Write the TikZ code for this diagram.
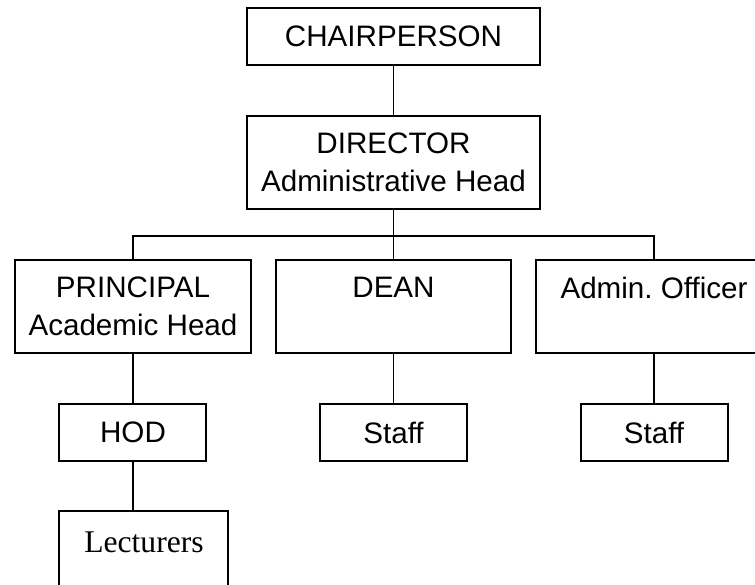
\documentclass[tikz,border=0pt]{standalone}
\usepackage{fontspec}
\setmainfont{Liberation Sans}
\newfontfamily\lectfont{Liberation Serif}
\usetikzlibrary{positioning}

\begin{document}
\begin{tikzpicture}[
    node distance=24.5pt and 11.5pt,
    box/.style={rectangle, draw, line width=1pt, minimum width=73.5pt, minimum height=28.5pt, inner sep=2pt, font=\fontsize{14.8}{19}\selectfont},
    bigbox/.style={box, align=center, minimum width=118pt, minimum height=46.5pt},
    link/.style={line width=0.8pt}
]

\useasboundingbox (-196.75pt,18.25pt) rectangle (180.75pt,-273.75pt);

\node[box, minimum width=146.5pt] (chair) at (0,0) {CHAIRPERSON};
\node[bigbox, minimum width=146.5pt, below=of chair] (director) {DIRECTOR\\Administrative Head};
\node[bigbox, minimum width=117.5pt, below=of director] (dean) {DEAN\\~};
\node[bigbox, left=of dean] (principal) {PRINCIPAL\\Academic Head};
\node[bigbox, right=of dean] (admin) {Admin.\ Officer\\~};
\node[box, below=of principal] (hod) {HOD};
\node[box, below=of dean] (staffmid) {Staff};
\node[box, below=of admin] (staffright) {Staff};
\node[bigbox, minimum width=84.5pt, below=24pt of hod, xshift=5.5pt, font=\lectfont\fontsize{15.8}{15}\selectfont] (lecturers) {Lecturers\\~};

\draw[link] (chair) -- (director);
\draw[link] (director.south) -- ++(0,-13pt) coordinate (bus);
\draw[link] (principal.north) |- (bus) -| (admin.north);
\draw[link] (bus) -- (dean.north);
\draw[link] (principal) -- (hod);
\draw[link] (dean) -- (staffmid);
\draw[link] (admin) -- (staffright);
\draw[link] (hod.south) -- (hod.south |- lecturers.north);

\end{tikzpicture}
\end{document}
